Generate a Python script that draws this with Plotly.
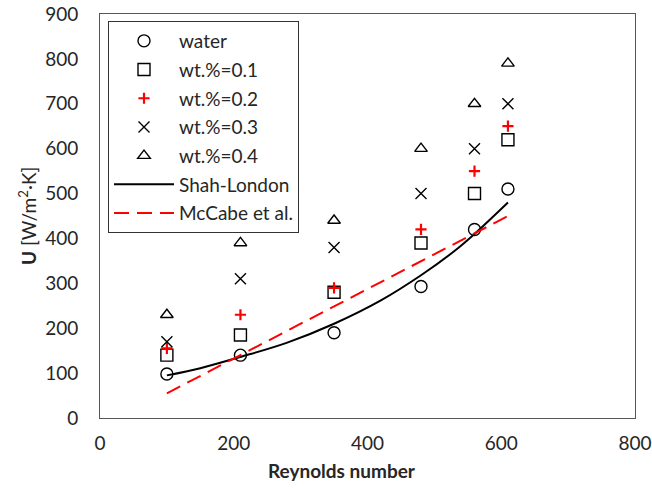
import plotly.graph_objects as go

reynolds = [100, 210, 350, 480, 560, 610]
u_water = [98, 140, 190, 293, 420, 510]
u_wt01 = [140, 185, 280, 390, 500, 620]
u_wt02 = [155, 230, 290, 420, 550, 650]
u_wt03 = [170, 310, 380, 500, 600, 700]
u_wt04 = [230, 390, 440, 600, 700, 790]

shah_re = [100, 150, 210, 280, 350, 420, 480, 530, 560, 610]
shah_u = [95, 111, 136, 168, 210, 262, 318, 372, 410, 480]

mccabe_re = [100, 610]
mccabe_u = [55, 450]

x_ticks = [0, 200, 400, 600, 800]
y_ticks = [0, 100, 200, 300, 400, 500, 600, 700, 800, 900]

FONT = "Lato, 'Open Sans', sans-serif"
TXT = "#262626"

fig = go.Figure()

def mk(name, y, symbol, color="black", size=11, lw=1.4):
    fig.add_trace(go.Scatter(
        x=reynolds, y=y, mode="markers", name=name, legendgroup=name,
        marker=dict(symbol=symbol, size=size, color=color,
                    line=dict(width=lw, color=color)),
    ))

mk("water", u_water, "circle-open", size=12)
mk("wt.%=0.1", u_wt01, "square-open", size=12)
mk("wt.%=0.2", u_wt02, "cross-thin", color="red", size=8, lw=2.2)
mk("wt.%=0.3", u_wt03, "x-thin", size=11, lw=1.4)
mk("wt.%=0.4", u_wt04, "triangle-up-open", size=11)

fig.add_trace(go.Scatter(
    x=shah_re, y=shah_u, mode="lines", name="Shah-London", legendgroup="sl",
    line=dict(color="black", width=2, shape="spline"),
))
fig.add_trace(go.Scatter(
    x=mccabe_re, y=mccabe_u, mode="lines", name="McCabe et al.", legendgroup="mc",
    line=dict(color="red", width=2, dash="15px,8px"),
))

fig.update_layout(
    width=652, height=488,
    margin=dict(l=100, r=17, t=14, b=70),
    paper_bgcolor="white", plot_bgcolor="white",
    font=dict(family=FONT, size=19, color=TXT),
    showlegend=True,
    legend=dict(
        x=8 / 535, y=1 - 7 / 404, xanchor="left", yanchor="top",
        bordercolor="#333", borderwidth=1, bgcolor="white",
        font=dict(family=FONT, size=19, color=TXT),
        tracegroupgap=1, itemwidth=60,
    ),
    xaxis=dict(
        range=[0, 800], tickvals=x_ticks, showgrid=False, zeroline=False,
        showline=True, linecolor="#555", linewidth=1, mirror=True,
        ticks="", ticklabelstandoff=8, automargin=False,
        tickfont=dict(family=FONT, size=19, color=TXT),
    ),
    yaxis=dict(
        range=[0, 900], tickvals=y_ticks, showgrid=False, zeroline=False,
        showline=True, linecolor="#555", linewidth=1, mirror=True,
        ticks="", ticklabelstandoff=17, automargin=False,
        tickfont=dict(family=FONT, size=19, color=TXT),
    ),
    annotations=[
        dict(text="<b>Reynolds number</b>", xref="paper", yref="paper",
             x=(342 - 100) / 535, y=(418 - 471) / 404, xanchor="center", yanchor="middle",
             showarrow=False, font=dict(family=FONT, size=19, color=TXT)),
        dict(text="<b>U</b> [W/m<sup>2</sup>·K]", xref="paper", yref="paper",
             x=(27 - 100) / 535, y=0.5, xanchor="center", yanchor="middle",
             textangle=-90, showarrow=False,
             font=dict(family=FONT, size=19, color=TXT)),
    ],
)

fig.write_html(
    "out.html",
    config={"displayModeBar": False},
    post_script="document.body.style.margin='0';document.body.style.padding='0';",
)
